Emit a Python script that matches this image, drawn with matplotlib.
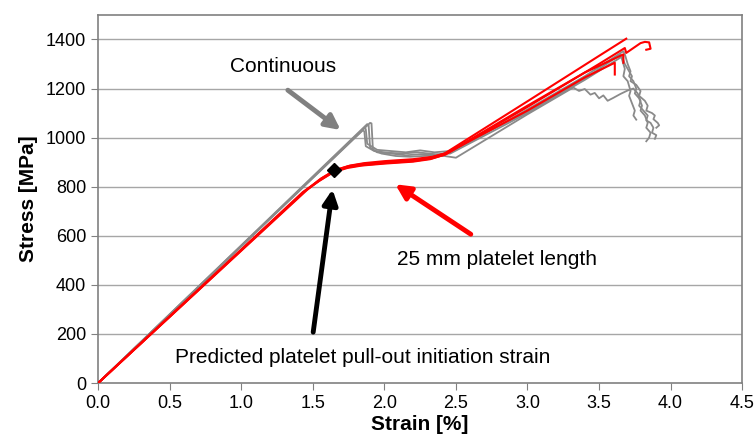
import matplotlib
matplotlib.use("Agg")
import matplotlib.pyplot as plt

plt.rcParams['font.family'] = ['Liberation Sans', 'DejaVu Sans']

# continuous specimens (gray)
gray1_x = [0.0, 1.88, 1.89, 1.90, 1.95, 2.05, 2.15, 2.25, 2.38, 2.50, 3.00, 3.40, 3.67, 3.68, 3.70, 3.72, 3.71, 3.74,
           3.76, 3.75, 3.78, 3.80, 3.79, 3.82, 3.84, 3.83, 3.86, 3.85, 3.83]
gray1_y = [0, 1055, 1050, 960, 940, 935, 928, 932, 930, 950, 1115, 1250, 1352, 1340, 1300, 1270, 1250, 1230,
           1200, 1180, 1160, 1130, 1110, 1090, 1060, 1040, 1020, 1000, 985]
gray2_x = [0.0, 1.86, 1.87, 1.88, 1.95, 2.05, 2.15, 2.25, 2.35, 2.45, 3.00, 3.40, 3.65, 3.66, 3.68, 3.67, 3.70,
           3.72, 3.71, 3.73, 3.75, 3.74, 3.76]
gray2_y = [0, 1040, 1035, 975, 950, 945, 940, 948, 940, 945, 1105, 1240, 1339, 1320, 1280, 1250, 1230,
           1190, 1170, 1140, 1110, 1090, 1073]
gray3_x = [0.0, 1.90, 1.91, 1.92, 1.98, 2.08, 2.18, 2.30, 2.42, 2.50, 3.00, 3.32, 3.36, 3.40, 3.44, 3.47, 3.50, 3.53,
           3.56, 3.60, 3.65, 3.70, 3.74, 3.77, 3.79, 3.78, 3.81, 3.84, 3.83, 3.86, 3.88, 3.87, 3.90, 3.89]
gray3_y = [0, 1060, 1058, 950, 935, 925, 922, 926, 925, 918, 1095, 1204, 1190, 1198, 1175, 1182, 1160, 1172,
           1150, 1162, 1178, 1192, 1200, 1180, 1150, 1130, 1110, 1090, 1070, 1060, 1040, 1020, 1010, 995]
gray4_x = [0.0, 1.85, 1.86, 1.87, 1.93, 2.03, 2.13, 2.23, 2.36, 2.46, 3.00, 3.40, 3.66, 3.68, 3.70, 3.73, 3.72,
           3.76, 3.79, 3.78, 3.82, 3.84, 3.83, 3.87, 3.89, 3.88, 3.91, 3.92, 3.90]
gray4_y = [0, 1030, 1025, 965, 945, 938, 935, 940, 932, 935, 1100, 1235, 1330, 1300, 1280, 1250, 1230,
           1215, 1190, 1170, 1150, 1130, 1110, 1100, 1090, 1075, 1060, 1050, 1040]

# 25 mm platelet specimens (red)
red1_x = [0.0, 1.45, 1.55, 1.65, 1.75, 1.85, 2.00, 2.20, 2.32, 2.42, 3.00, 3.50, 3.69]
red1_y = [0, 785, 830, 866, 884, 893, 900, 908, 918, 935, 1148, 1333, 1403]
red2_x = [0.0, 1.44, 1.55, 1.65, 1.75, 1.85, 2.00, 2.20, 2.33, 2.43, 3.00, 3.50, 3.68, 3.69, 3.79, 3.82, 3.85,
          3.86, 3.83]
red2_y = [0, 780, 826, 862, 880, 888, 896, 904, 915, 932, 1125, 1300, 1365, 1345, 1385, 1390, 1388,
          1362, 1358]
red3_x = [0.0, 1.46, 1.56, 1.66, 1.76, 1.86, 2.00, 2.20, 2.34, 2.44, 3.00, 3.40, 3.61, 3.61]
red3_y = [0, 787, 834, 868, 886, 896, 904, 912, 922, 938, 1110, 1245, 1305, 1257]
red4_x = [0.0, 1.43, 1.54, 1.64, 1.74, 1.84, 2.00, 2.20, 2.32, 2.42, 3.00, 3.40, 3.67, 3.67]
red4_y = [0, 778, 822, 858, 876, 886, 894, 902, 912, 930, 1130, 1265, 1339, 1305]

# predicted pull-out initiation point
marker_x = [1.65]
marker_y = [869]

x_ticks = [0.0, 0.5, 1.0, 1.5, 2.0, 2.5, 3.0, 3.5, 4.0, 4.5]
y_ticks = [0, 200, 400, 600, 800, 1000, 1200, 1400]

fig = plt.figure(figsize=(7.55, 4.43), dpi=100)
ax = fig.add_axes([0.130, 0.1354, 0.853, 0.831])

for y in y_ticks[1:]:
    ax.axhline(y, color='#a6a6a6', lw=1, zorder=0)

for xs, ys in [(gray1_x, gray1_y), (gray2_x, gray2_y), (gray3_x, gray3_y), (gray4_x, gray4_y)]:
    ax.plot(xs, ys, color='#8a8a8a', lw=1.3, zorder=2)
for xs, ys in [(red1_x, red1_y), (red2_x, red2_y), (red3_x, red3_y), (red4_x, red4_y)]:
    ax.plot(xs, ys, color='#ff0000', lw=1.5, zorder=3)

ax.plot(marker_x, marker_y, marker='D', color='black', markersize=7, ls='none', zorder=5)

# annotations
ax.annotate('', xy=(1.71, 1024), xytext=(1.31, 1200),
            arrowprops=dict(arrowstyle='-|>', color='#808080', lw=3.5, mutation_scale=22))
ax.text(1.295, 1291, 'Continuous', fontsize=15, ha='center', va='center')

ax.annotate('', xy=(2.06, 816), xytext=(2.62, 600),
            arrowprops=dict(arrowstyle='-|>', color='#ff0000', lw=3.5, mutation_scale=22))
ax.text(2.79, 502, '25 mm platelet length', fontsize=15, ha='center', va='center')

ax.annotate('', xy=(1.64, 800), xytext=(1.50, 196),
            arrowprops=dict(arrowstyle='-|>', color='black', lw=3.5, mutation_scale=22))
ax.text(1.845, 106, 'Predicted platelet pull-out initiation strain', fontsize=15, ha='center', va='center')

ax.set_xlim(0, 4.5)
ax.set_ylim(0, 1500)
ax.set_xticks(x_ticks)
ax.set_xticklabels([f'{v:.1f}' for v in x_ticks])
ax.set_yticks(y_ticks)
ax.tick_params(labelsize=13, color='#808080', length=5, direction='out')
for s in ax.spines.values():
    s.set_color('#808080')
    s.set_linewidth(1.2)

ax.set_xlabel('Strain [%]', fontsize=15, fontweight='bold', labelpad=2)
ax.set_ylabel('Stress [MPa]', fontsize=15, fontweight='bold', labelpad=6)

fig.savefig('out.png', dpi=100)
